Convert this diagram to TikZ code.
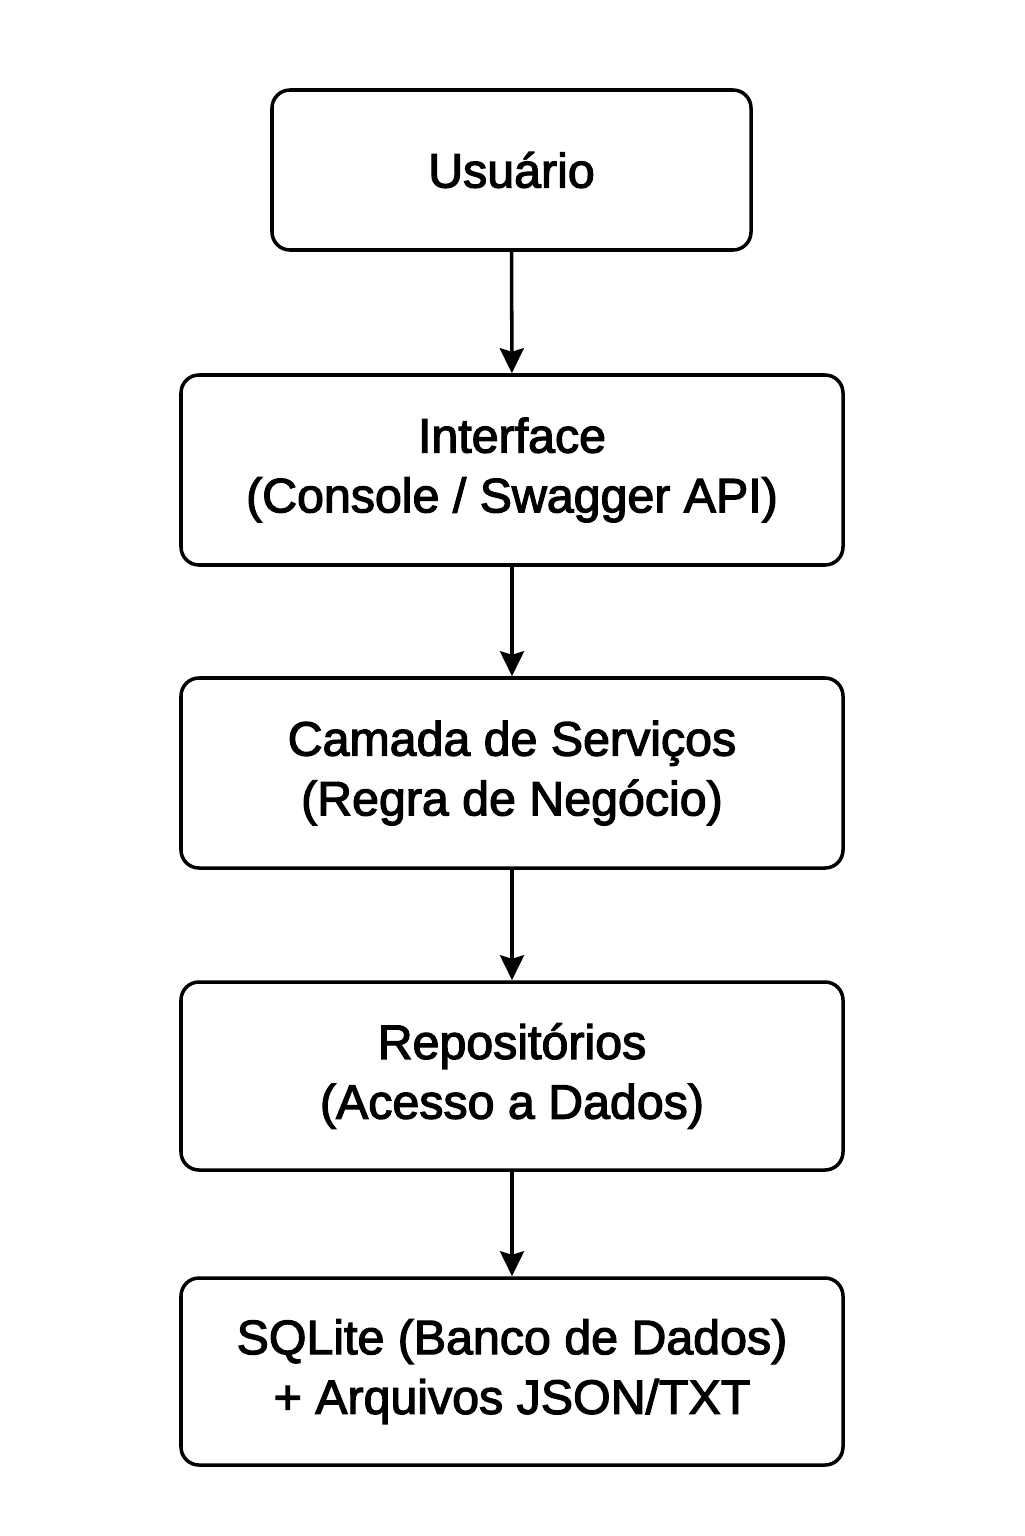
\documentclass[tikz,border=0pt]{standalone}
\usepackage{fontspec}
\setmainfont[BoldFont={Liberation Sans}, BoldFeatures={FakeBold=2.5}]{Liberation Sans}
\usetikzlibrary{arrows.meta}
\tikzset{
	layer/.style={draw, line width=2pt, rounded corners=0.36cm, align=center, inner sep=0pt, font=\fontsize{27.5}{34}\selectfont\bfseries},
	flow/.style={line width=2pt, -{Stealth[length=0.5cm, width=0.48cm, inset=0.07cm]}}
}

\begin{document}
\begin{tikzpicture}
		%%%%% START %%%%%
		
		\useasboundingbox (0, 0) rectangle (20.48, -30.72);
		
		\node[layer, minimum width=9.58cm, minimum height=3.2cm] (usuario) at (10.23, -3.4) {Usuário};
		\node[layer, minimum width=13.24cm, minimum height=3.8cm] (interface) at (10.24, -9.4) {Interface\\(Console / Swagger API)};
		\node[layer, minimum width=13.24cm, minimum height=3.8cm] (servicos) at (10.24, -15.46) {Camada de Serviços\\(Regra de Negócio)};
		\node[layer, minimum width=13.24cm, minimum height=3.76cm] (repos) at (10.24, -21.52) {Repositórios\\(Acesso a Dados)};
		\node[layer, minimum width=13.24cm, minimum height=3.74cm] (dados) at (10.24, -27.43) {SQLite (Banco de Dados)\\+ Arquivos JSON/TXT};
		
		\draw[flow] (usuario) -- (interface);
		\draw[flow] (interface) -- (servicos);
		\draw[flow] (servicos) -- (repos);
		\draw[flow] (repos) -- (dados);
		
		%%%%% END %%%%%
	\end{tikzpicture}
\end{document}
